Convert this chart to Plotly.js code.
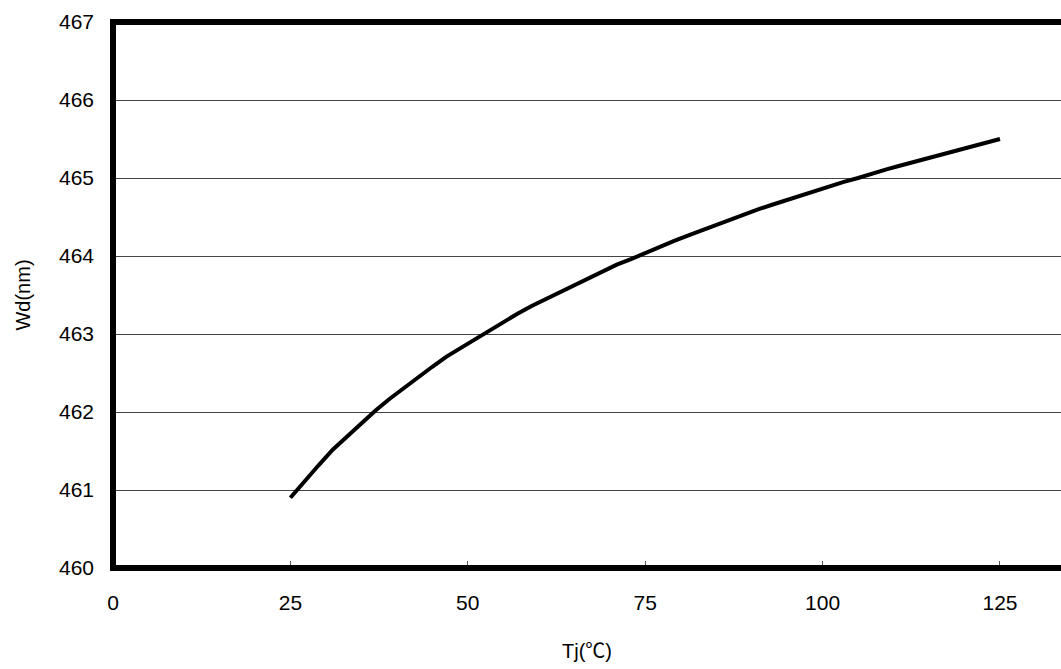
<!DOCTYPE html>
<html>
<head>
<meta charset="utf-8">
<script src="https://cdn.plot.ly/plotly-3.0.1.min.js"></script>
<style>
html, body { margin: 0; padding: 0; overflow: hidden; background: #fff; }
#chart { width: 1061px; height: 669px; }
</style>
</head>
<body>
<div id="chart"></div>
<script>
// Junction temperature (°C)
const tj = [25, 27, 29, 31, 33, 35, 37, 39, 41, 43, 45, 47, 49, 51, 53, 55, 57, 59, 61, 63,
            65, 67, 69, 71, 73, 75, 77, 79, 81, 83, 85, 87, 89, 91, 93, 95, 97, 99, 101, 103,
            105, 107, 109, 111, 113, 115, 117, 119, 121, 123, 125];
// Dominant wavelength (nm)
const wd = [460.90, 461.12, 461.32, 461.52, 461.69, 461.86, 462.02, 462.17, 462.31, 462.45,
            462.58, 462.71, 462.82, 462.94, 463.05, 463.16, 463.26, 463.36, 463.45, 463.54,
            463.63, 463.72, 463.80, 463.89, 463.96, 464.04, 464.12, 464.19, 464.26, 464.33,
            464.40, 464.47, 464.53, 464.60, 464.66, 464.72, 464.78, 464.84, 464.89, 464.95,
            465.00, 465.06, 465.11, 465.16, 465.21, 465.26, 465.31, 465.36, 465.41, 465.46,
            465.50];
const xTicks = [0, 25, 50, 75, 100, 125];
const yTicks = [460, 461, 462, 463, 464, 465, 466, 467];
const xTitle = "Tj(<span style=\"font-family:'Noto Sans CJK KR'\">℃</span>)";
const yTitle = "Wd(nm)";

const fontFam = "Liberation Sans, Arial, 'Noto Sans CJK KR', sans-serif";

const trace = {
  x: tj, y: wd, type: "scatter", mode: "lines",
  line: { color: "#000", width: 4 },
  hoverinfo: "skip"
};

const layout = {
  width: 1061, height: 669,
  margin: { l: 113, r: 0, t: 22, b: 101 },
  paper_bgcolor: "#fff", plot_bgcolor: "#fff",
  showlegend: false,
  font: { family: fontFam, color: "#000" },
  xaxis: {
    range: [0, 133.6],
    tickvals: xTicks, ticktext: xTicks.map(String),
    ticks: "inside", ticklen: 7, tickwidth: 1, tickcolor: "#555",
    tickfont: { size: 21, family: fontFam },
    ticklabelstandoff: 20,
    showgrid: false, zeroline: false, showline: false,
    title: { text: xTitle, font: { size: 20, family: fontFam }, standoff: 30 }
  },
  yaxis: {
    range: [460, 467],
    tickvals: yTicks, ticktext: yTicks.map(String),
    ticks: "", tickfont: { size: 21, family: fontFam },
    ticklabelstandoff: 18,
    showgrid: true, gridcolor: "#444", gridwidth: 1,
    zeroline: false, showline: false,
    title: { text: yTitle, font: { size: 20, family: fontFam }, standoff: 22 }
  },
  shapes: [{
    type: "path", xref: "paper", yref: "paper",
    path: "M 1.05,1 L 0,1 L 0,0 L 1.05,0",
    line: { color: "#000", width: 6 }, layer: "above"
  }]
};

Plotly.newPlot("chart", [trace], layout, { staticPlot: true, displayModeBar: false });
</script>
</body>
</html>
